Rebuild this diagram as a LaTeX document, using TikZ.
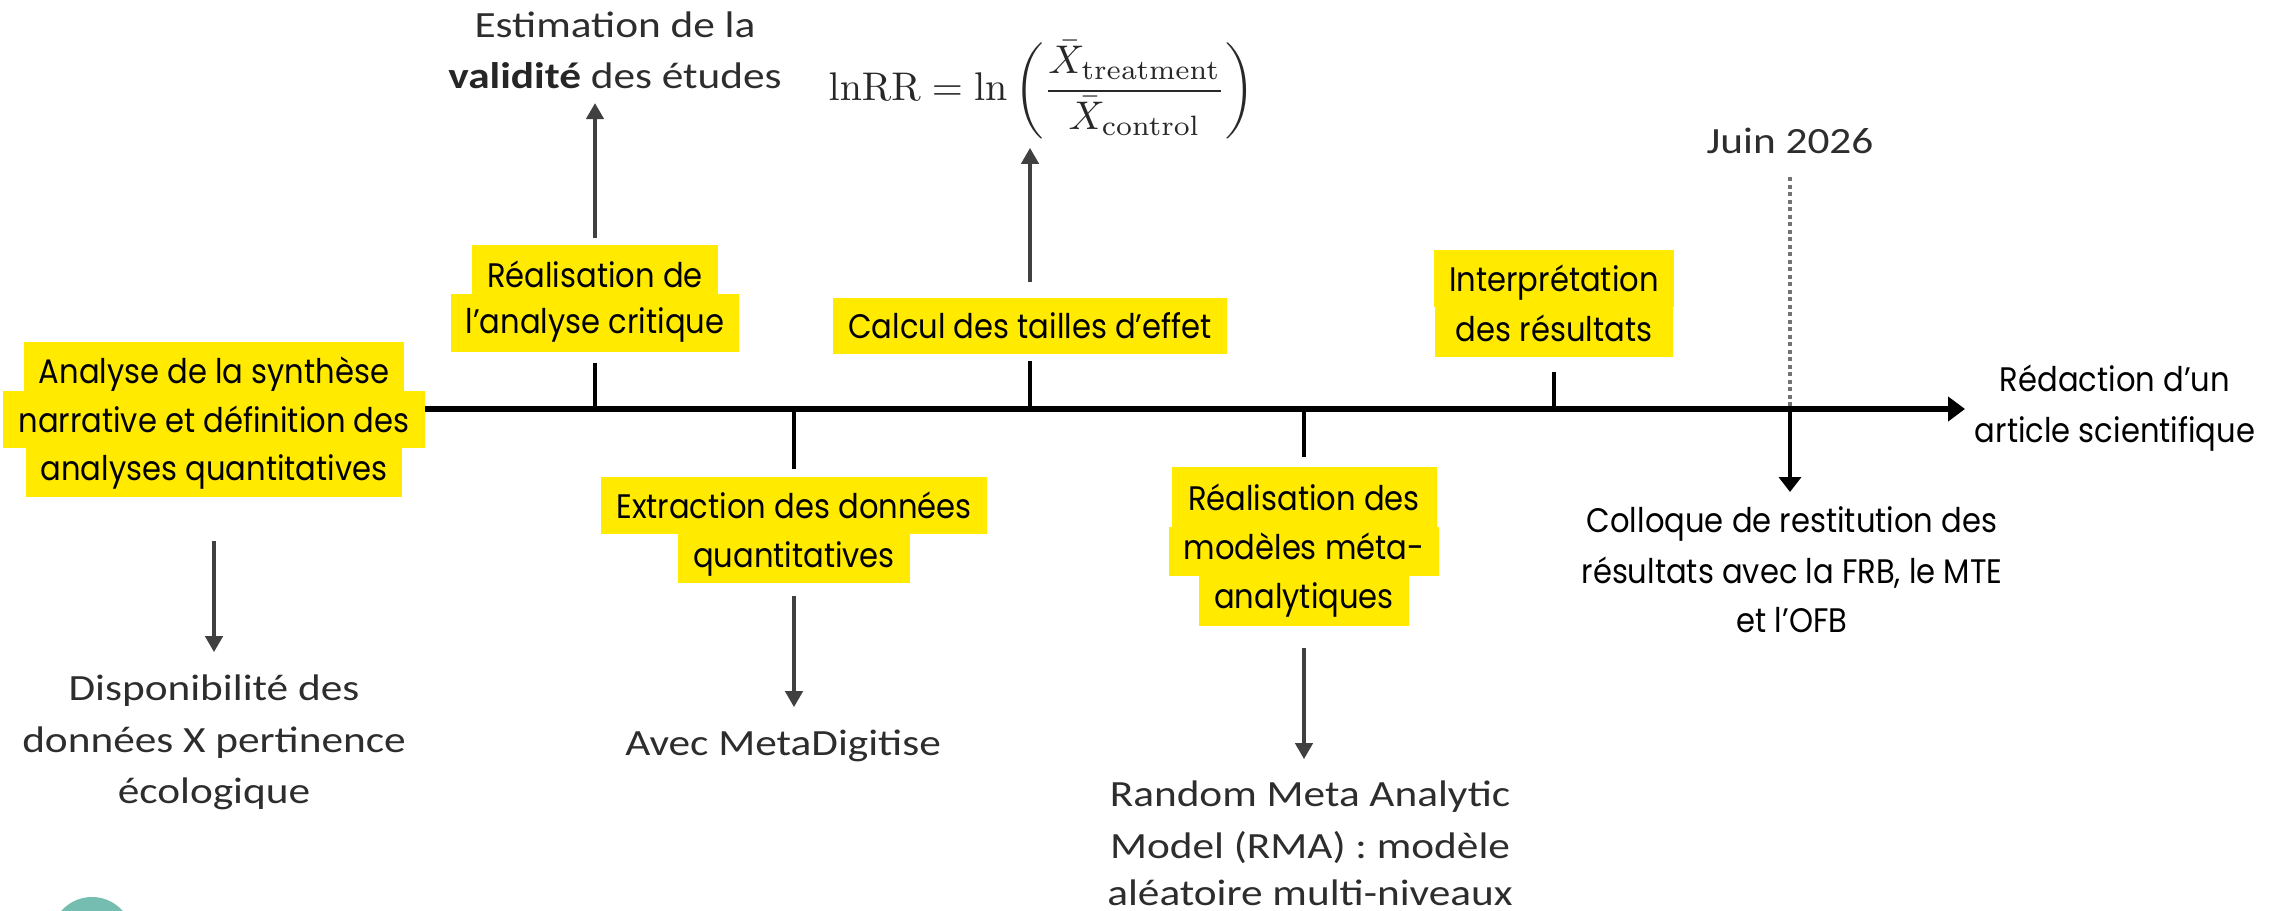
\documentclass[tikz,border=0pt]{standalone}
\usepackage[no-math]{fontspec}
\setmainfont[FakeStretch=1.17]{Carlito}
\newfontfamily\geo[FakeStretch=0.9]{Poppins}
\usetikzlibrary{arrows.meta}
\definecolor{hlyellow}{RGB}{255,234,0}
\definecolor{txtgray}{RGB}{45,45,45}
\definecolor{arrgray}{RGB}{64,64,64}
\definecolor{tealdot}{RGB}{118,189,177}
\definecolor{formgray}{RGB}{40,40,40}
\begin{document}
\begin{tikzpicture}[x=1pt,y=-1pt,
  hl/.style={fill=hlyellow, inner xsep=15pt, inner ysep=0pt, anchor=base, font=\geo\fontsize{34}{40}\selectfont, text=black},
  calib/.style={anchor=base, inner sep=0pt, font=\fontsize{37}{44}\selectfont, text=txtgray},
  geotxt/.style={anchor=base, inner sep=0pt, font=\geo\fontsize{34}{40}\selectfont, text=black},
  tickline/.style={line width=4pt, black},
  garrow/.style={line width=4pt, arrgray, -{Triangle[length=16pt,width=17pt]}},
  axisline/.style={line width=5.5pt, black, -{Triangle[length=17pt,width=24pt]}},
  jarrow/.style={line width=4pt, black, -{Triangle[length=15pt,width=22pt]}},
  dotline/.style={line width=4pt, black!55, dash pattern=on 4pt off 3.5pt},
]
\useasboundingbox (0,0) rectangle (2280,910);
\begin{scope}
  \clip (0,0) rectangle (2280,910);
  \fill[tealdot] (92,938) circle[radius=41];
\end{scope}

% highlighted steps
\node[hl, text height=41pt, text depth=8pt]  (A1) at (214,383) {Analyse de la synthèse};
\node[hl, text height=41pt, text depth=16pt] (A2) at (214,432) {narrative et définition des};
\node[hl, text height=32pt, text depth=17pt] (A3) at (214,480) {analyses quantitatives};

\node[hl, text height=42pt, text depth=7pt]  (B1) at (595,287) {Réalisation de};
\node[hl, text height=39pt, text depth=19pt] (B2) at (595,333) {l’analyse critique};

\node[hl, text height=40pt, text depth=16pt] (C) at (1030,338) {Calcul des tailles d’effet};

\node[hl, text height=41pt, text depth=16pt] (D1) at (794,518) {Extraction des données};
\node[hl, text height=33pt, text depth=16pt] (D2) at (794,567) {quantitatives};

\node[hl, text height=43pt, text depth=17pt, minimum width=265pt] (E1) at (1304,510) {Réalisation des};
\node[hl, text height=32pt, text depth=17pt, minimum width=265pt] (E2) at (1304,559) {modèles méta-};
\node[hl, text height=32pt, text depth=18pt] (E3) at (1304,608) {analytiques};

\node[hl, text height=41pt, text depth=16pt, minimum width=238pt] (F1) at (1554,291) {Interprétation};
\node[hl, text height=34pt, text depth=16pt, minimum width=238pt] (F2) at (1554,341) {des résultats};

% plain texts
\node[calib] (V1) at (615,37) {Estimation de la};
\node[calib] (V2) at (615,88) {\textbf{\color{black!85}validité} des études};
\node[calib] (J) at (1790,153) {Juin 2026};
\node[calib] (P1) at (214,700) {Disponibilité des};
\node[calib] (P2) at (214,752) {données X pertinence};
\node[calib] (P3) at (214,803) {écologique};
\node[calib] (M) at (783,755) {Avec MetaDigitise};
\node[calib] (R1) at (1310,806) {Random Meta Analytic};
\node[calib] (R2) at (1310,858) {Model (RMA) : modèle};
\node[calib] (R3) at (1310,905) {aléatoire multi-niveaux};

\node[geotxt] (W1) at (2115,391) {Rédaction d’un};
\node[geotxt] (W2) at (2115,442) {article scientifique};
\node[geotxt] (K1) at (1792,532) {Colloque de restitution des};
\node[geotxt] (K2) at (1792,583) {résultats avec la FRB, le MTE};
\node[geotxt] (K3) at (1792,632) {et l’OFB};

\node[inner sep=0pt, text=formgray] (Q) at (1042,90)
  {\scalebox{4.0}{$\displaystyle \mathrm{lnRR} = \ln\left(\frac{\bar{X}_{\mathrm{treatment}}}{\bar{X}_{\mathrm{control}}}\right)$}};

% axis
\coordinate (ax) at (0,409);
\coordinate (axend) at (1965,409);
\draw[axisline] (A2.east |- ax) -- (axend);

% ticks
\draw[tickline] ([yshift=-11pt]B2.south) -- (B2.south |- ax);
\draw[tickline] ([yshift=-7pt]C.south) -- (C.south |- ax);
\draw[tickline] (D1.north |- ax) -- ([yshift=8pt]D1.north);
\draw[tickline] (E1.north |- ax) -- ([yshift=10pt]E1.north);
\draw[tickline] ([yshift=-15pt]F2.south) -- (F2.south |- ax);

% grey arrows
\draw[garrow] ([yshift=7pt]B1.north) -- ([yshift=-15pt]B1.north |- V2.base);
\draw[garrow] ([yshift=16pt]C.north) -- ++(0,-134);
\draw[garrow] ([yshift=-44pt]A3.south) -- ++(0,111);
\draw[garrow] ([yshift=-13pt]D2.south) -- ++(0,111);
\draw[garrow] ([yshift=-22pt]E3.south) -- ++(0,111);

% June 2026 marker
\draw[dotline] ([yshift=-24pt]J.base) -- (J.base |- ax);
\draw[jarrow] (J.base |- ax) -- ++(0,83);
\end{tikzpicture}
\end{document}
